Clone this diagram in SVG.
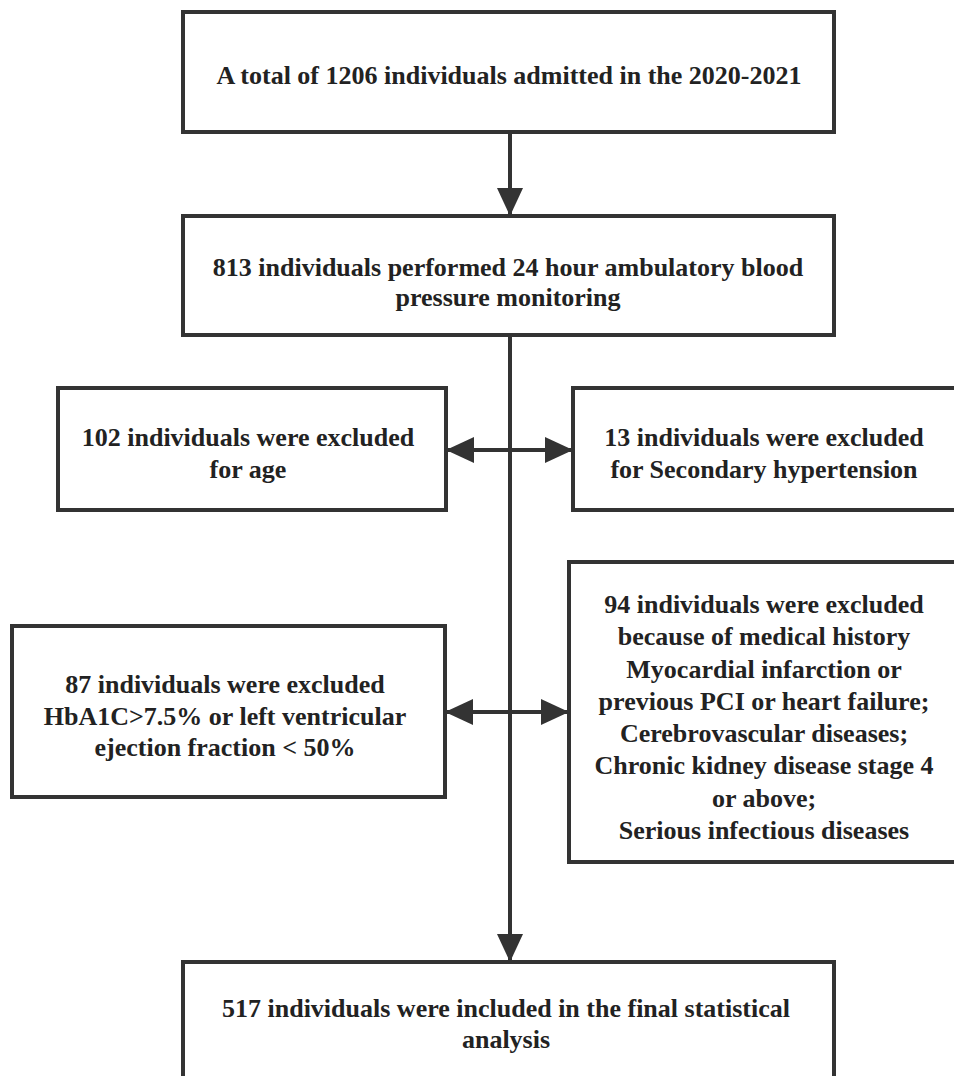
<svg xmlns="http://www.w3.org/2000/svg" width="954" height="1076" viewBox="0 0 954 1076">
<style>
.box{fill:#fff;stroke:#333;stroke-width:4}
.t{font-weight:700;font-size:26px;fill:#222;text-anchor:middle}
.ln{stroke:#333;stroke-width:4;fill:none}
</style>
<defs>
<marker id="ah" markerUnits="userSpaceOnUse" viewBox="0 0 28 26" refX="28" refY="13" markerWidth="28" markerHeight="26" orient="auto-start-reverse">
<path d="M0,0 L28,13 L0,26 Z" fill="#333"/>
</marker>
</defs>
<rect width="954" height="1076" fill="#fff"/>
<g id="connectors">
<line class="ln" x1="510" y1="132" x2="510" y2="216" marker-end="url(#ah)"/>
<line class="ln" x1="510" y1="335" x2="510" y2="962" marker-end="url(#ah)"/>
<line class="ln" x1="446" y1="450" x2="573" y2="450" marker-start="url(#ah)" marker-end="url(#ah)"/>
<line class="ln" x1="445" y1="712" x2="569" y2="712" marker-start="url(#ah)" marker-end="url(#ah)"/>
</g>
<g font-family="Liberation Serif, DejaVu Serif, Noto Serif, Times New Roman, Times, serif">
<g id="n1">
<rect class="box" x="183" y="12" width="651" height="120"/>
<text class="t" x="509" y="84">A total of 1206 individuals admitted in the 2020-2021</text>
</g>
<g id="n2">
<rect class="box" x="183" y="216" width="651" height="119"/>
<text class="t" x="508" y="276">813 individuals performed 24 hour ambulatory blood</text>
<text class="t" x="508" y="306">pressure monitoring</text>
</g>
<g id="n3">
<rect class="box" x="58" y="388" width="388" height="122"/>
<text class="t" x="248" y="446">102 individuals were excluded</text>
<text class="t" x="248" y="478">for age</text>
</g>
<g id="n4">
<rect class="box" x="573" y="388" width="400" height="122"/>
<text class="t" x="764" y="446">13 individuals were excluded</text>
<text class="t" x="764" y="478">for Secondary hypertension</text>
</g>
<g id="n5">
<rect class="box" x="12" y="626" width="433" height="171"/>
<text class="t" x="225" y="693">87 individuals were excluded</text>
<text class="t" x="225" y="725">HbA1C&gt;7.5% or left ventricular</text>
<text class="t" x="225" y="756">ejection fraction &lt; 50%</text>
</g>
<g id="n6">
<rect class="box" x="569" y="562" width="400" height="300"/>
<text class="t" x="764" y="613">94 individuals were excluded</text>
<text class="t" x="764" y="645">because of medical history</text>
<text class="t" x="764" y="678">Myocardial infarction or</text>
<text class="t" x="764" y="710">previous PCI or heart failure;</text>
<text class="t" x="764" y="742">Cerebrovascular diseases;</text>
<text class="t" x="764" y="774">Chronic kidney disease stage 4</text>
<text class="t" x="764" y="807">or above;</text>
<text class="t" x="764" y="839">Serious infectious diseases</text>
</g>
<g id="n7">
<rect class="box" x="183" y="962" width="651" height="130"/>
<text class="t" x="506" y="1017">517 individuals were included in the final statistical</text>
<text class="t" x="506" y="1048">analysis</text>
</g>
</g>
</svg>
